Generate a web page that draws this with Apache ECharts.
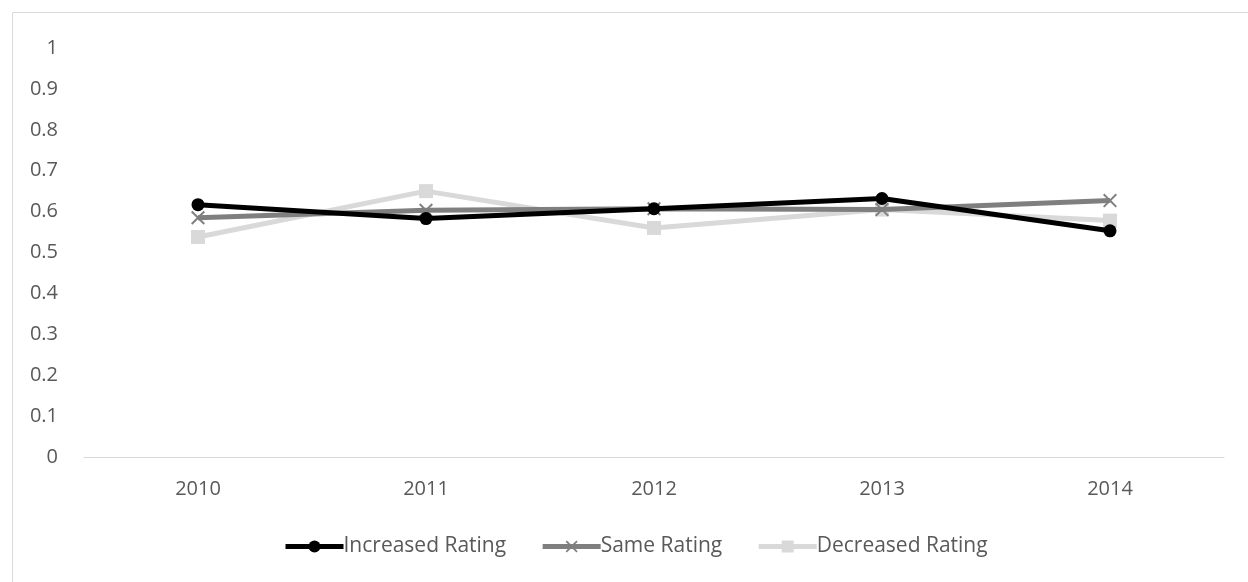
<!DOCTYPE html>
<html>
<head>
<meta charset="utf-8">
<script src="https://cdn.jsdelivr.net/npm/echarts@6/dist/echarts.min.js"></script>
<style>
  html, body { margin: 0; padding: 0; background: #fff; }
  #chart { width: 1248px; height: 582px; }
</style>
</head>
<body>
<div id="chart"></div>
<script>
// Years on the category axis
const years = ['2010', '2011', '2012', '2013', '2014'];

// Share per rating group, by year
const increasedRating = [0.617, 0.583, 0.607, 0.632, 0.553];
const sameRating = [0.585, 0.603, 0.607, 0.605, 0.627];
const decreasedRating = [0.538, 0.650, 0.560, 0.605, 0.578];

// Value axis ticks
const yMin = 0;
const yMax = 1;
const yStep = 0.1;

const textColor = '#595959';
const fontFamily = '"Open Sans", "Liberation Sans", sans-serif';
const crossPath = 'path://M0,1L1,0L5,4L9,0L10,1L6,5L10,9L9,10L5,6L1,10L0,9L4,5Z';

const chart = echarts.init(document.getElementById('chart'), null, { renderer: 'canvas' });

chart.setOption({
  animation: false,
  backgroundColor: '#ffffff',
  textStyle: { fontFamily: fontFamily, color: textColor },
  graphic: [{
    type: 'rect',
    shape: { x: 12.5, y: 12.5, width: 1300, height: 700 },
    style: { fill: 'none', stroke: '#d9d9d9', lineWidth: 1 },
    silent: true,
    z: -1
  }],
  grid: { left: 84, right: 24, top: 48, bottom: 125, containLabel: false },
  legend: {
    bottom: 20,
    left: 278,
    itemWidth: 58,
    itemHeight: 15,
    itemGap: 34,
    lineStyle: { width: 5 },
    textStyle: { fontSize: 21, color: textColor, fontFamily: fontFamily, padding: [0, 0, 0, -5] },
    data: ['Increased Rating', 'Same Rating', 'Decreased Rating']
  },
  xAxis: {
    type: 'category',
    data: years,
    boundaryGap: true,
    axisLine: { lineStyle: { color: '#d9d9d9', width: 1 } },
    axisTick: { show: false },
    axisLabel: { color: textColor, fontSize: 20, margin: 22 }
  },
  yAxis: {
    type: 'value',
    min: yMin,
    max: yMax,
    interval: yStep,
    splitLine: { show: false },
    axisLine: { show: false },
    axisTick: { show: false },
    axisLabel: {
      color: textColor,
      fontSize: 20,
      margin: 26,
      formatter: v => String(Math.round(v * 10) / 10)
    }
  },
  series: [
    {
      name: 'Increased Rating',
      type: 'line',
      data: increasedRating,
      symbol: 'circle',
      symbolSize: 13,
      lineStyle: { color: '#000000', width: 5 },
      itemStyle: { color: '#000000' },
      z: 3
    },
    {
      name: 'Same Rating',
      type: 'line',
      data: sameRating,
      symbol: crossPath,
      symbolSize: 14,
      lineStyle: { color: '#7f7f7f', width: 5 },
      itemStyle: { color: '#7f7f7f' },
      z: 2
    },
    {
      name: 'Decreased Rating',
      type: 'line',
      data: decreasedRating,
      symbol: 'rect',
      symbolSize: 14,
      lineStyle: { color: '#d9d9d9', width: 5 },
      itemStyle: { color: '#d9d9d9' },
      z: 1
    }
  ]
});
</script>
</body>
</html>
